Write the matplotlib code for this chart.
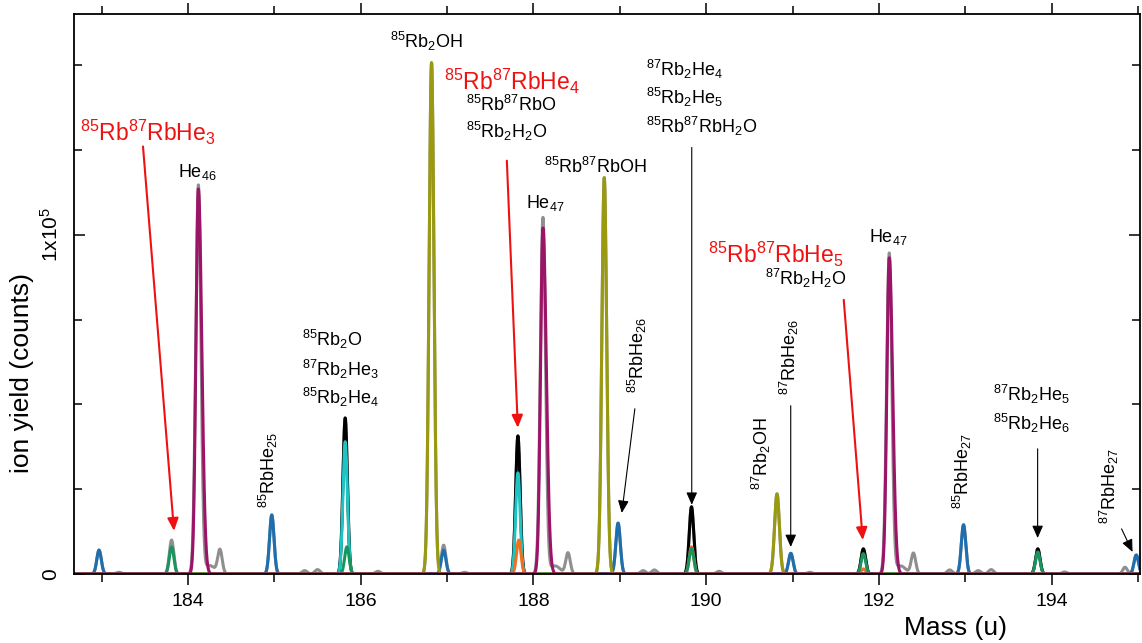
import matplotlib
matplotlib.use("Agg")
import matplotlib.pyplot as plt
import numpy as np

plt.rcParams.update({
    "font.family": ["Liberation Sans", "DejaVu Sans"],
    "mathtext.fontset": "custom",
    "mathtext.rm": "Liberation Sans",
    "mathtext.it": "Liberation Sans:italic",
    "mathtext.bf": "Liberation Sans:bold",
})

PURPLE, OLIVE, BLUE = "#9c1468", "#9a9a10", "#1f6fae"
CYAN, GREEN, ORANGE = "#1ec4c4", "#18955e", "#ee7020"
GRAY, RED = "#8f8f8f", "#ee1111"

# peak tables: centre (u), height (counts)
gray_mass = [182.97, 183.2, 183.81, 184.12, 184.25, 184.37, 184.97, 185.35, 185.5,
             185.82, 186.2, 186.82, 186.96, 187.2, 187.82, 188.11, 188.25, 188.40,
             188.82, 188.98, 189.27, 189.4, 189.83, 190.15, 190.82, 190.98, 191.2,
             191.82, 192.12, 192.25, 192.40, 192.82, 192.98, 193.15, 193.3, 193.84,
             194.15, 194.85, 194.98]
gray_h = [7100, 500, 10000, 114500, 2500, 7000, 17400, 1000, 1300,
          46000, 800, 150700, 8500, 500, 40700, 105000, 2400, 6200,
          116800, 15000, 1000, 1200, 19800, 800, 23600, 6100, 500,
          7400, 94400, 2400, 6100, 1200, 14500, 1000, 1300, 7400,
          600, 2000, 5600]
gray_w = [0.026, 0.03, 0.026, 0.03, 0.06, 0.026, 0.026, 0.03, 0.03,
          0.026, 0.03, 0.028, 0.026, 0.03, 0.026, 0.03, 0.06, 0.026,
          0.028, 0.026, 0.03, 0.03, 0.026, 0.03, 0.028, 0.026, 0.03,
          0.026, 0.03, 0.06, 0.026, 0.03, 0.026, 0.03, 0.03, 0.026,
          0.03, 0.026, 0.026]

black_mass = [185.82, 187.82, 189.83, 191.82, 193.84]
black_h = [46000, 40700, 19800, 7400, 7400]

cyan_mass = [185.82, 187.82]
cyan_h = [39000, 29800]

orange_mass = [187.83, 189.83, 191.82]
orange_h = [10000, 8000, 1500]

green_mass = [183.81, 185.84, 189.83, 191.82, 193.84]
green_h = [8000, 8000, 7500, 6000, 6500]

blue_mass = [182.97, 184.97, 186.96, 188.98, 190.98, 192.98, 194.98]
blue_h = [7000, 17400, 7000, 15000, 6100, 14500, 5600]

olive_mass = [186.82, 188.82, 190.82]
olive_h = [150700, 116800, 23600]

he_mass = [184.12, 188.11, 192.12]
he_h = [113500, 102000, 93200]

x = np.linspace(182.6, 195.1, 6000)


def profile(mass, height, width=0.026, skew=1.0):
    # gaussian line shape, right side widened by skew
    y = np.zeros_like(x)
    if np.isscalar(width):
        width = [width] * len(mass)
    for m, h, w in zip(mass, height, width):
        ww = np.where(x > m, w * skew, w)
        y += h * np.exp(-0.5 * ((x - m) / ww) ** 2)
    return y


fig = plt.figure(figsize=(11.42, 6.43), dpi=100)
ax = fig.add_axes([0.0648, 0.1073, 0.9332, 0.8707])

lw = 2.2
ax.plot(x, profile(gray_mass, gray_h, gray_w), color=GRAY, lw=lw)
ax.plot(x, profile(black_mass, black_h), color="black", lw=lw)
ax.plot(x, profile(cyan_mass, cyan_h), color=CYAN, lw=lw)
ax.plot(x, profile(orange_mass, orange_h), color=ORANGE, lw=lw)
ax.plot(x, profile(green_mass, green_h), color=GREEN, lw=lw)
ax.plot(x, profile(blue_mass, blue_h), color=BLUE, lw=lw)
ax.plot(x, profile(olive_mass, olive_h, 0.028), color=OLIVE, lw=lw)
ax.plot(x, profile(he_mass, he_h, 0.028, skew=1.4), color=PURPLE, lw=lw)

ax.set_xlim(182.68, 195.02)
ax.set_ylim(0, 165000)
ax.set_xticks(np.arange(184, 195, 2))
ax.set_xticks(np.arange(183, 196, 2), minor=True)
ax.set_yticks([0, 100000], labels=["0", "1x10$^5$"])
ax.set_yticks(np.arange(0, 165000, 25000), minor=True)
ax.tick_params(axis="both", which="both", direction="in", top=True, right=True,
               labelsize=14, width=1.1)
ax.tick_params(axis="x", which="both", bottom=True, direction="out")
ax.tick_params(which="major", length=8)
ax.tick_params(which="minor", length=6)
ax.tick_params(axis="x", which="both", top=True, labeltop=False)
ax.tick_params(axis="x", pad=6)
ax.tick_params(axis="y", pad=17, labelsize=15)
for lab in ax.get_yticklabels():
    lab.set_rotation(90)
    lab.set_va("center")
    lab.set_ha("center")
for s in ax.spines.values():
    s.set_linewidth(1.3)

ax.set_xlabel("Mass (u)", fontsize=19)
ax.xaxis.set_label_coords(0.827, -0.096)
ax.xaxis.label.set_va("center")
ax.set_ylabel("ion yield (counts)", fontsize=19)
ax.yaxis.set_label_coords(-0.049, 0.359)
ax.yaxis.label.set_va("center")

FS = 13
FR = 16.5


def lbl(xx, yy, t, ha="center", rot=0, c="black", fs=FS):
    ax.text(xx, yy, t, ha=ha, va="center", rotation=rot, color=c, fontsize=fs)


def arr(x0, y0, x1, y1, c="black", w=0.8):
    ax.annotate("", xy=(x1, y1), xytext=(x0, y0),
                arrowprops=dict(arrowstyle="-|>,head_length=0.5,head_width=0.22",
                                mutation_scale=15, color=c, lw=w,
                                shrinkA=0, shrinkB=0))


lbl(183.537, 130100, r"$^{85}$Rb$^{87}$RbHe$_3$", c=RED, fs=FR)
arr(183.479, 126000, 183.838, 12700, c=RED, w=1.5)
lbl(184.104, 118600, r"He$_{46}$")
lbl(184.926, 30700, r"$^{85}$RbHe$_{25}$", rot=90)
lbl(185.319, 69000, r"$^{85}$Rb$_2$O", ha="left")
lbl(185.319, 60200, r"$^{87}$Rb$_2$He$_3$", ha="left")
lbl(185.319, 51900, r"$^{85}$Rb$_2$He$_4$", ha="left")
lbl(186.766, 156900, r"$^{85}$Rb$_2$OH")
lbl(187.75, 145100, r"$^{85}$Rb$^{87}$RbHe$_4$", c=RED, fs=FR)
lbl(187.218, 138100, r"$^{85}$Rb$^{87}$RbO", ha="left")
lbl(187.218, 130400, r"$^{85}$Rb$_2$H$_2$O", ha="left")
arr(187.692, 121800, 187.819, 43100, c=RED, w=1.5)
lbl(188.12, 120100, r"$^{85}$Rb$^{87}$RbOH", ha="left")
lbl(188.132, 109400, r"He$_{47}$")
lbl(189.30, 148700, r"$^{87}$Rb$_2$He$_4$", ha="left")
lbl(189.30, 140400, r"$^{85}$Rb$_2$He$_5$", ha="left")
lbl(189.30, 131900, r"$^{85}$Rb$^{87}$RbH$_2$O", ha="left")
arr(189.833, 125700, 189.833, 20400)
lbl(189.208, 64600, r"$^{85}$RbHe$_{26}$", rot=90)
arr(189.174, 48700, 189.023, 18000)
lbl(190.806, 94100, r"$^{85}$Rb$^{87}$RbHe$_5$", c=RED, fs=FR)
lbl(191.153, 87000, r"$^{87}$Rb$_2$H$_2$O")
arr(191.593, 80800, 191.813, 10000, c=RED, w=1.5)
lbl(190.644, 35400, r"$^{87}$Rb$_2$OH", rot=90)
lbl(190.968, 64000, r"$^{87}$RbHe$_{26}$", rot=90)
arr(190.979, 49600, 190.979, 7960)
lbl(192.113, 99400, r"He$_{47}$")
lbl(192.97, 30400, r"$^{85}$RbHe$_{27}$", rot=90)
lbl(193.317, 52800, r"$^{87}$Rb$_2$He$_5$", ha="left")
lbl(193.317, 44500, r"$^{85}$Rb$_2$He$_6$", ha="left")
arr(193.838, 36900, 193.838, 10600)
lbl(194.671, 26000, r"$^{87}$RbHe$_{27}$", rot=90)
arr(194.81, 13300, 194.937, 6500)

fig.savefig("out.png", dpi=100)
